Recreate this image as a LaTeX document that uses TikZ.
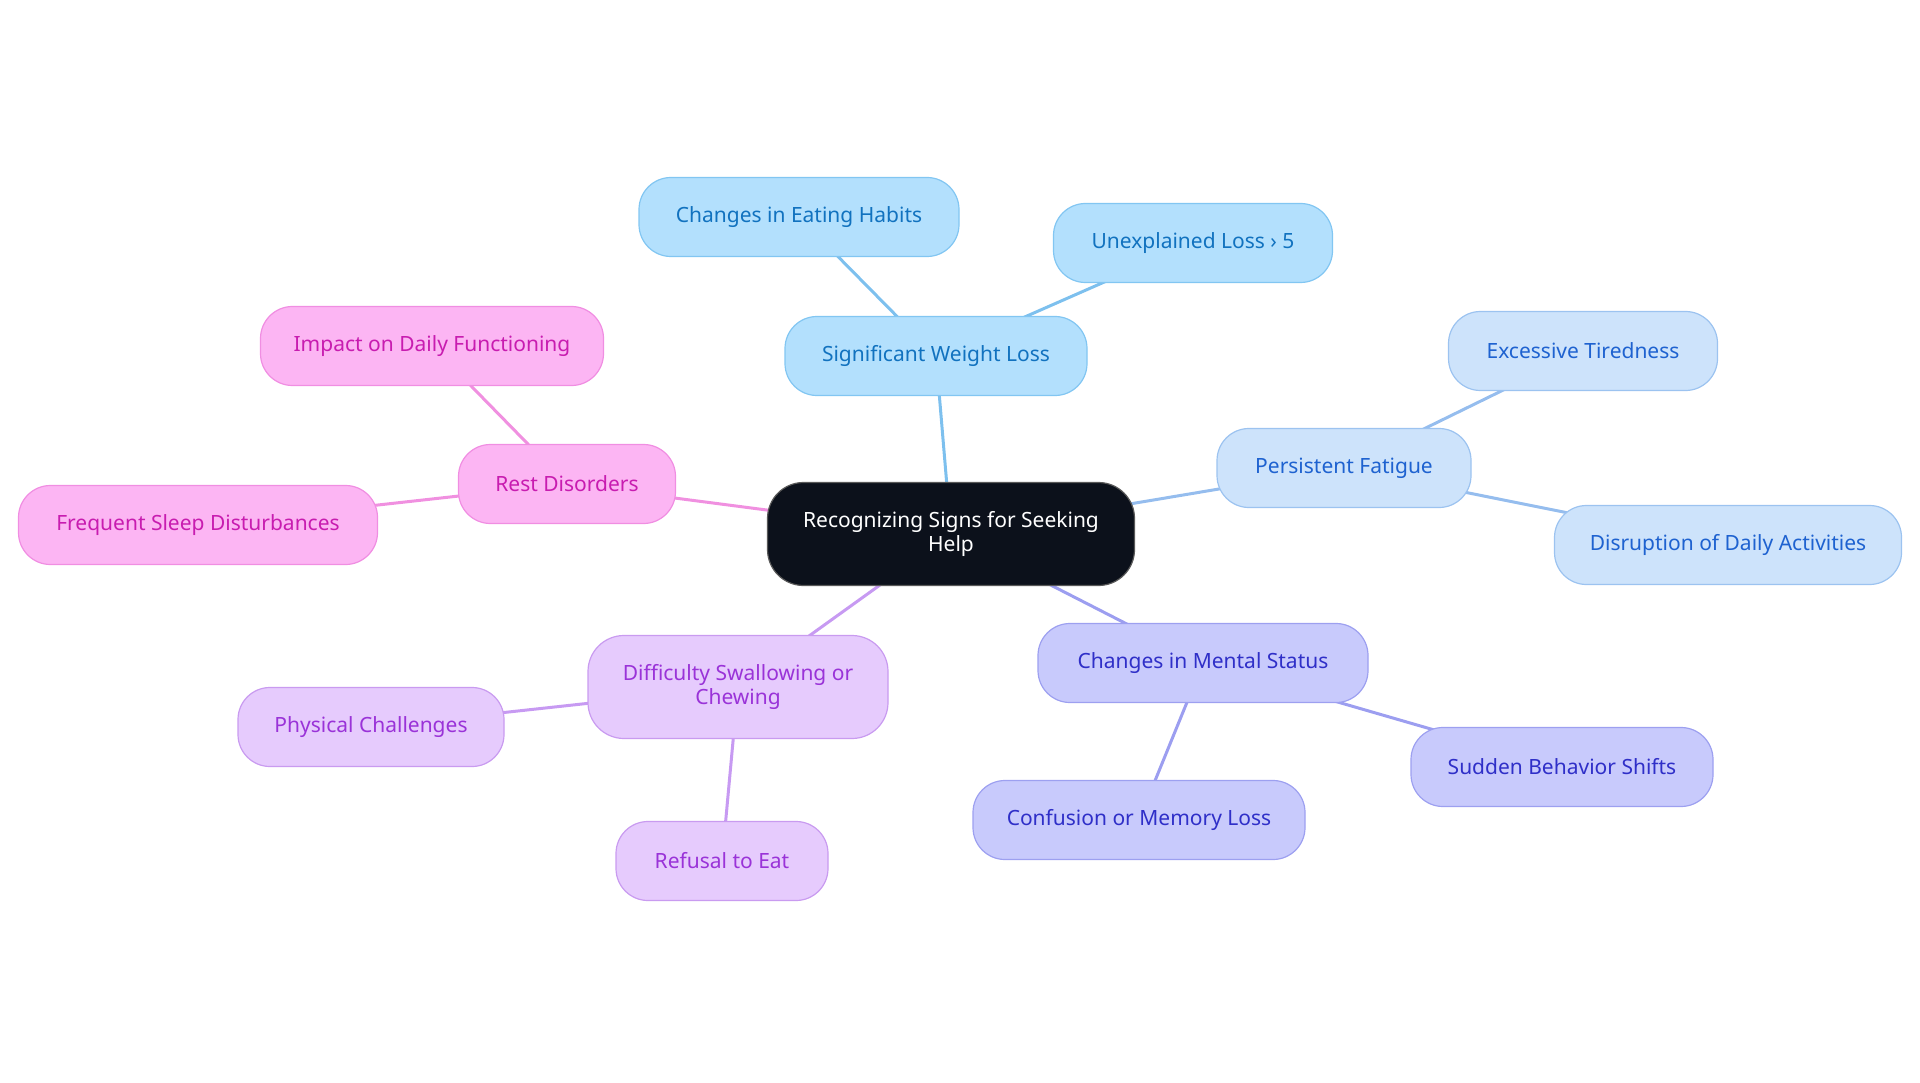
\documentclass[tikz,border=0pt]{standalone}
\usepackage{fontspec}
\setmainfont{Noto Sans}
\usetikzlibrary{backgrounds}
\definecolor{wlF}{HTML}{B3E0FD}\definecolor{wlD}{HTML}{82C6F2}\definecolor{wlT}{HTML}{1172BF}\definecolor{wlL}{HTML}{7DC0EE}
\definecolor{pfF}{HTML}{CDE3FB}\definecolor{pfD}{HTML}{9CC3F0}\definecolor{pfT}{HTML}{1E62D0}\definecolor{pfL}{HTML}{95BDEE}
\definecolor{msF}{HTML}{C8CAFC}\definecolor{msD}{HTML}{9DA0F0}\definecolor{msT}{HTML}{2F2FC8}\definecolor{msL}{HTML}{9C9EF0}
\definecolor{swF}{HTML}{E6CBFD}\definecolor{swD}{HTML}{C99BF0}\definecolor{swT}{HTML}{9A33D8}\definecolor{swL}{HTML}{C79AF2}
\definecolor{rdF}{HTML}{FCB5F3}\definecolor{rdD}{HTML}{F08EE2}\definecolor{rdT}{HTML}{C81CB0}\definecolor{rdL}{HTML}{F090E0}
\definecolor{ctF}{HTML}{0C111B}
\tikzset{
  box/.style={rounded corners=32pt, minimum height=79pt, line width=1.2pt, align=center, font=\fontsize{21}{24.5}\selectfont, inner sep=0pt},
  wl/.style={box, fill=wlF, draw=wlD, text=wlT},
  pf/.style={box, fill=pfF, draw=pfD, text=pfT},
  ms/.style={box, fill=msF, draw=msD, text=msT},
  sw/.style={box, fill=swF, draw=swD, text=swT},
  rd/.style={box, fill=rdF, draw=rdD, text=rdT},
  ctr/.style={box, fill=ctF, draw=gray!70!black, text=white, minimum height=103pt, rounded corners=36pt},
  lk/.style={line width=3pt},
}
\begin{document}
\begin{tikzpicture}[x=1pt,y=-1pt]
\useasboundingbox (0,0) rectangle (1920,1083);
\node[ctr, minimum width=367pt] (c) at (951,534) {Recognizing Signs for Seeking\\Help};
\node[wl, minimum width=302pt] (wl) at (936,356) {Significant Weight Loss};
\node[wl, minimum width=320pt] (wl1) at (799,217) {Changes in Eating Habits};
\node[wl, minimum width=279pt] (wl2) at (1193,243) {Unexplained Loss › 5};
\node[pf, minimum width=254pt] (pf) at (1344,468) {Persistent Fatigue};
\node[pf, minimum width=269pt] (pf1) at (1583,351) {Excessive Tiredness};
\node[pf, minimum width=347pt] (pf2) at (1728,545) {Disruption of Daily Activities};
\node[ms, minimum width=330pt] (ms) at (1203,663) {Changes in Mental Status};
\node[ms, minimum width=302pt] (ms1) at (1562,767) {Sudden Behavior Shifts};
\node[ms, minimum width=332pt] (ms2) at (1139,820) {Confusion or Memory Loss};
\node[sw, minimum width=300pt, minimum height=103pt, rounded corners=36pt] (sw) at (738,687) {Difficulty Swallowing or\\Chewing};
\node[sw, minimum width=266pt] (sw1) at (371,727) {Physical Challenges};
\node[sw, minimum width=212pt] (sw2) at (722,861) {Refusal to Eat};
\node[rd, minimum width=217pt] (rd) at (567,484) {Rest Disorders};
\node[rd, minimum width=343pt] (rd1) at (432,346) {Impact on Daily Functioning};
\node[rd, minimum width=359pt] (rd2) at (198,525) {Frequent Sleep Disturbances};
\begin{scope}[on background layer]
\draw[lk, wlL] (c.center) -- (wl.center); \draw[lk, wlL] (wl.center) -- (wl1.center); \draw[lk, wlL] (wl.center) -- (wl2.center);
\draw[lk, pfL] (c.center) -- (pf.center); \draw[lk, pfL] (pf.center) -- (pf1.center); \draw[lk, pfL] (pf.center) -- (pf2.center);
\draw[lk, msL] (c.center) -- (ms.center); \draw[lk, msL] (ms.center) -- (ms1.center); \draw[lk, msL] (ms.center) -- (ms2.center);
\draw[lk, swL] (c.center) -- (sw.center); \draw[lk, swL] (sw.center) -- (sw1.center); \draw[lk, swL] (sw.center) -- (sw2.center);
\draw[lk, rdL] (c.center) -- (rd.center); \draw[lk, rdL] (rd.center) -- (rd1.center); \draw[lk, rdL] (rd.center) -- (rd2.center);
\end{scope}
\end{tikzpicture}
\end{document}
